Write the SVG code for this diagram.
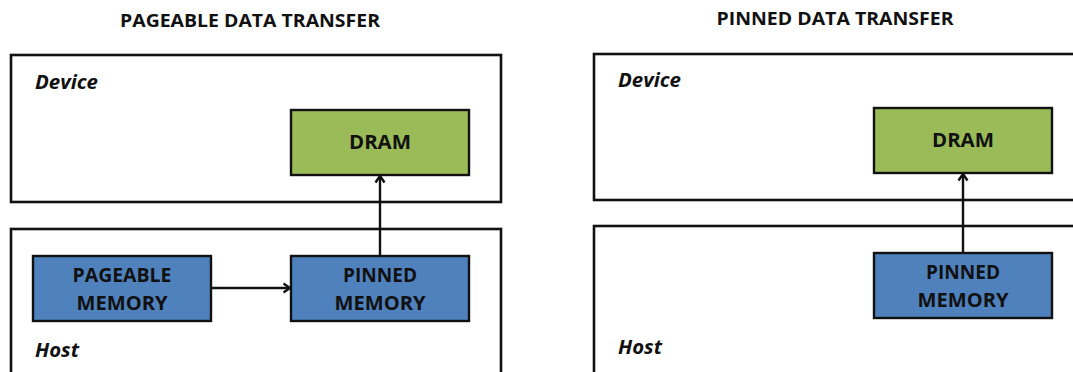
<svg xmlns="http://www.w3.org/2000/svg" width="1073" height="372" viewBox="0 0 1073 372">
  <style>
    .title { font-family: "Open Sans", "Liberation Sans", sans-serif; font-weight: 700; font-size: 17px; fill: #111; text-anchor: middle; }
    .zone { fill: #fff; stroke: #111; stroke-width: 2.6; }
    .zlabel { font-family: "Open Sans", "Liberation Sans", sans-serif; font-style: italic; font-weight: 700; font-size: 19px; fill: #111; }
    .dram { fill: #9BBB59; stroke: #111; stroke-width: 2.4; }
    .mem { fill: #4F81BD; stroke: #111; stroke-width: 2.4; }
    .blabel { font-family: "Open Sans", "Liberation Sans", sans-serif; font-weight: 700; font-size: 19px; fill: #111; text-anchor: middle; }
    .link { stroke: #111; stroke-width: 2.4; fill: none; marker-end: url(#chev); }
  </style>
  <defs>
    <marker id="chev" viewBox="0 0 12 12" refX="10.5" refY="6" markerWidth="12" markerHeight="12" markerUnits="userSpaceOnUse" orient="auto">
      <path d="M4,1.5 L10.5,6 L4,10.5" fill="none" stroke="#111" stroke-width="2.4"/>
    </marker>
  </defs>
  <rect width="1073" height="372" fill="#fff"/>

  <!-- Left panel: pageable transfer -->
  <text class="title" x="250" y="27" textLength="260" lengthAdjust="spacingAndGlyphs">PAGEABLE DATA TRANSFER</text>
  <g id="left-device">
    <rect class="zone" x="11" y="55" width="490" height="147"/>
    <text class="zlabel" x="35" y="89" textLength="63" lengthAdjust="spacingAndGlyphs">Device</text>
  </g>
  <g id="left-host">
    <rect class="zone" x="11" y="229" width="490" height="160"/>
    <text class="zlabel" x="35" y="357" textLength="44" lengthAdjust="spacingAndGlyphs">Host</text>
  </g>
  <g id="left-dram">
    <rect class="dram" x="291" y="110" width="178" height="65"/>
    <text class="blabel" x="380" y="149" textLength="62" lengthAdjust="spacingAndGlyphs">DRAM</text>
  </g>
  <g id="left-pageable">
    <rect class="mem" x="33" y="256" width="178" height="65"/>
    <text class="blabel" x="122" y="282" textLength="99" lengthAdjust="spacingAndGlyphs">PAGEABLE</text>
    <text class="blabel" x="122" y="310" textLength="91" lengthAdjust="spacingAndGlyphs">MEMORY</text>
  </g>
  <g id="left-pinned">
    <rect class="mem" x="291" y="256" width="178" height="65"/>
    <text class="blabel" x="380" y="282" textLength="74" lengthAdjust="spacingAndGlyphs">PINNED</text>
    <text class="blabel" x="380" y="310" textLength="91" lengthAdjust="spacingAndGlyphs">MEMORY</text>
  </g>

  <!-- Right panel: pinned transfer -->
  <text class="title" x="835" y="25" textLength="237" lengthAdjust="spacingAndGlyphs">PINNED DATA TRANSFER</text>
  <g id="right-device">
    <rect class="zone" x="594" y="54" width="490" height="146"/>
    <text class="zlabel" x="618" y="87" textLength="63" lengthAdjust="spacingAndGlyphs">Device</text>
  </g>
  <g id="right-host">
    <rect class="zone" x="594" y="226" width="490" height="160"/>
    <text class="zlabel" x="618" y="354" textLength="44" lengthAdjust="spacingAndGlyphs">Host</text>
  </g>
  <g id="right-dram">
    <rect class="dram" x="874" y="108" width="178" height="65"/>
    <text class="blabel" x="963" y="147" textLength="62" lengthAdjust="spacingAndGlyphs">DRAM</text>
  </g>
  <g id="right-pinned">
    <rect class="mem" x="874" y="253" width="178" height="65"/>
    <text class="blabel" x="963" y="279" textLength="74" lengthAdjust="spacingAndGlyphs">PINNED</text>
    <text class="blabel" x="963" y="307" textLength="91" lengthAdjust="spacingAndGlyphs">MEMORY</text>
  </g>

  <g id="connectors">
    <line class="link" x1="211" y1="288" x2="290" y2="288"/>
    <line class="link" x1="380" y1="256" x2="380" y2="176"/>
    <line class="link" x1="963" y1="253" x2="963" y2="174"/>
  </g>
</svg>
